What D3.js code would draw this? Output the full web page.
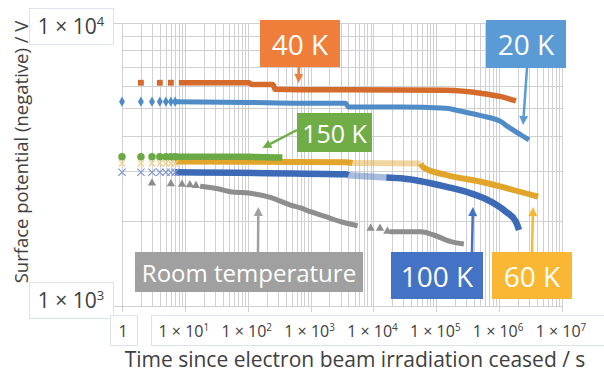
<!DOCTYPE html>
<html>
<head>
<meta charset="utf-8">
<script src="https://cdn.jsdelivr.net/npm/d3@7"></script>
<style>
  body { margin: 0; background: #fff; }
  svg { display: block; font-family: "Open Sans", "Noto Sans", sans-serif; }
</style>
</head>
<body>
<svg id="chart" width="604" height="372"></svg>
<script>
// ---- data (time in s, potential in V) ----
const xTickValues = [1, 1e1, 1e2, 1e3, 1e4, 1e5, 1e6, 1e7];
const yTickValues = [1e3, 1e4];

// 40 K
const t40 = [8, 105, 115, 250, 275, 690, 27000, 141800, 512000, 1.07e6, 1.85e6];
const v40 = [6150, 6150, 6060, 6060, 5830, 5810, 5800, 5780, 5645, 5491, 5302];
const m40 = [2, 4, 6];
// 20 K
const t20 = [7, 100, 690, 3600, 4000, 27000, 141800, 200000, 512000, 1.07e6, 1.38e6, 2.23e6, 2.99e6];
const v20 = [5272, 5240, 5204, 5204, 5050, 5050, 5000, 4930, 4704, 4480, 4302, 4020, 3860];
const m20 = [1, 2, 3, 4, 5, 6, 7];
// 150 K
const t150 = [7, 100, 356];
const v150 = [3370, 3365, 3345];
const m150 = [1, 2, 3, 4, 5, 6, 7];
// 60 K
const t60 = [7, 3600, 4660, 56600, 62000, 141800, 512000, 1.07e6, 4.16e6];
const v60 = [3240, 3219, 3200, 3185, 3090, 2904, 2749, 2640, 2433];
const m60 = [1, 2, 3, 4, 5, 6, 7];
// 100 K
const t100 = [7, 3600, 4020, 16000, 27150, 141800, 355000, 740000, 1.28e6, 1.85e6, 2.07e6];
const v100 = [2968, 2920, 2900, 2845, 2827, 2640, 2501, 2337, 2154, 1986, 1856];
const m100 = [1, 2, 3, 4, 5, 6, 7];
// room temperature (two measurement runs)
const tRTa = [17.5, 36.6, 52.8, 110, 229, 478, 690, 996, 2076, 3000, 5600];
const vRTa = [2650, 2585, 2534, 2501, 2422, 2274, 2220, 2154, 2041, 1986, 1922];
const tRTb = [18000, 56600, 91200, 170000, 274600];
const vRTb = [1830, 1830, 1782, 1688, 1656];
const mRTt = [3, 6, 9, 12, 15, 9020, 12700, 16670];
const mRTv = [2720, 2700, 2690, 2680, 2665, 1882, 1880, 1835];

// ---- scales ----
const svg = d3.select('#chart');
const x = d3.scaleLog().domain([1, 1e7]).range([122, 562]);
const y = d3.scaleLog().domain([1e3, 1e4]).range([306, 23]);
const isMajor = d => Math.abs(Math.log10(d) - Math.round(Math.log10(d))) < 1e-9;

// ---- grid ----
const grid = svg.append('g').attr('stroke', '#CFCFD4').attr('stroke-width', 1).attr('shape-rendering', 'crispEdges');
grid.selectAll('line.v').data(x.ticks()).join('line')
    .attr('class', 'v')
    .attr('x1', d => Math.round(x(d)) + 0.5).attr('x2', d => Math.round(x(d)) + 0.5)
    .attr('y1', y(1e4)).attr('y2', d => isMajor(d) ? y(1e3) + 6 : y(1e3));
grid.selectAll('line.h').data(y.ticks()).join('line')
    .attr('class', 'h')
    .attr('y1', d => Math.round(y(d)) + 0.5).attr('y2', d => Math.round(y(d)) + 0.5)
    .attr('x1', d => isMajor(d) ? x(1) - 9 : x(1)).attr('x2', x(1e7));

// ---- series ----
const pairs = (ts, vs) => ts.map((t, i) => [t, vs[i]]);
const line = d3.line().x(d => x(d[0])).y(d => y(d[1])).curve(d3.curveMonotoneX);

const series = [
  { name: 'RT', parts: [pairs(tRTa, vRTa), pairs(tRTb, vRTb)], color: '#8E8E8E', w: 5,
    marks: pairs(mRTt, mRTv), sym: d3.symbolTriangle, size: 30, fill: '#8E8E8E' },
  { name: '100K', parts: [pairs(t100, v100)], color: '#3D6AB6', w: 6.5, faint: [4020, 16000],
    marks: m100.map(t => [t, v100[0]]), sym: d3.symbolX, size: 36, stroke: '#7E97D3' },
  { name: '60K', parts: [pairs(t60, v60)], color: '#E2A52C', w: 6, faint: [4660, 56600],
    marks: m60.map(t => [t, 3190]), sym: d3.symbolX, size: 26, stroke: '#EFCF86' },
  { name: '150K', parts: [pairs(t150, v150)], color: '#6AA944', w: 6.5,
    marks: m150.map(t => [t, v150[0]]), sym: d3.symbolCircle, size: 44, fill: '#6AA944' },
  { name: '20K', parts: [pairs(t20, v20)], color: '#4F8BC6', w: 5,
    marks: m20.map(t => [t, v20[0]]), sym: d3.symbolDiamond, size: 30, fill: '#4F8BC6' },
  { name: '40K', parts: [pairs(t40, v40)], color: '#D46B2B', w: 5.5,
    marks: m40.map(t => [t, v40[0]]), sym: d3.symbolSquare, size: 34, fill: '#D46B2B' }
];

const plot = svg.append('g');
series.forEach(s => {
  const g = plot.append('g');
  s.parts.forEach(pts => {
    if (s.faint) {
      const [a, b] = s.faint;
      const before = pts.filter(d => d[0] <= a);
      const mid = pts.filter(d => d[0] >= a && d[0] <= b);
      const after = pts.filter(d => d[0] >= b);
      [[before, 1], [mid, 0.45], [after, 1]].forEach(([seg, op]) => {
        g.append('path').attr('d', line(seg)).attr('fill', 'none')
          .attr('stroke', s.color).attr('stroke-width', s.w).attr('stroke-opacity', op);
      });
    } else {
      g.append('path').attr('d', line(pts)).attr('fill', 'none')
        .attr('stroke', s.color).attr('stroke-width', s.w);
    }
  });
  g.selectAll('path.mk').data(s.marks).join('path')
    .attr('class', 'mk')
    .attr('transform', d => `translate(${x(d[0])},${y(d[1])})`)
    .attr('d', d3.symbol().type(s.sym).size(s.size))
    .attr('fill', s.fill || 'none')
    .attr('stroke', s.stroke || 'none')
    .attr('stroke-width', 1.2);
});

// ---- tick labels in boxes ----
function sci(sel, d, size) {
  if (d === 1) { sel.text('1'); return; }
  const e = Math.round(Math.log10(d));
  sel.append('tspan').text('1 \u00D7 10');
  sel.append('tspan').attr('dy', -size * 0.38).attr('font-size', size * 0.62).text(e);
}

const yLab = svg.append('g');
yTickValues.forEach(d => {
  const cy = d === 1e4 ? 27 : 301;
  yLab.append('rect').attr('x', 29.5).attr('y', cy - 18.5).attr('width', 84).attr('height', 36)
    .attr('fill', '#fff').attr('stroke', '#DCE3EE');
  yLab.append('text').attr('x', 71).attr('y', cy + 7).attr('text-anchor', 'middle')
    .attr('font-size', 21).attr('fill', '#404040').call(sci, d, 21);
});

const xLab = svg.append('g');
xLab.append('rect').attr('x', 110.5).attr('y', 315.5).attr('width', 27).attr('height', 30)
  .attr('fill', '#fff').attr('stroke', '#DCE3EE');
xLab.append('rect').attr('x', 151.5).attr('y', 315.5).attr('width', 470).attr('height', 30)
  .attr('fill', '#fff').attr('stroke', '#DCE3EE');
xTickValues.forEach(d => {
  xLab.append('text').attr('x', x(d) + (d === 1 ? 1 : -1)).attr('y', 337).attr('text-anchor', 'middle')
    .attr('font-size', 16).attr('fill', '#404040').call(sci, d, 16);
});

// ---- axis titles ----
svg.append('text').attr('transform', 'translate(20,152) rotate(-90)')
  .attr('text-anchor', 'middle').attr('dominant-baseline', 'central')
  .attr('font-size', 18.5).attr('fill', '#404040')
  .text('Surface potential (negative) / V');
svg.append('text').attr('x', 355).attr('y', 367).attr('text-anchor', 'middle')
  .attr('font-size', 21).attr('fill', '#404040')
  .text('Time since electron beam irradiation ceased / s');

// ---- callouts ----
const callouts = [
  { label: '40 K', fill: '#EF7E3B', box: [260, 20, 80, 47], fs: 28, from: [299, 67], tip: [641, 6138] },
  { label: '20 K', fill: '#5B9BD5', box: [486, 20, 80, 48], fs: 28, from: [527, 68], tip: [2.4e6, 4362] },
  { label: '150 K', fill: '#70AD47', box: [297, 113, 75, 39], fs: 25, from: [297, 130], tip: [171, 3616] },
  { label: 'Room temperature', fill: '#A0A0A0', box: [135, 252, 228, 40], fs: 24, from: [258, 252], tip: [147.6, 2237] },
  { label: '100 K', fill: '#4472C4', box: [391, 252, 92, 47], fs: 28, from: [472, 252], tip: [382000, 2237] },
  { label: '60 K', fill: '#FAB733', box: [492, 252, 80, 47], fs: 28, from: [532, 252], tip: [3.46e6, 2237] }
];

const ann = svg.append('g');
callouts.forEach(c => {
  const [bx, by, bw, bh] = c.box;
  ann.append('rect').attr('x', bx).attr('y', by).attr('width', bw).attr('height', bh).attr('fill', c.fill);
  ann.append('text').attr('x', bx + bw / 2).attr('y', by + bh / 2)
    .attr('text-anchor', 'middle').attr('dominant-baseline', 'central')
    .attr('font-size', c.fs).attr('fill', '#fff').text(c.label);

  const x0 = c.from[0], y0 = c.from[1];
  const x1 = x(c.tip[0]), y1 = y(c.tip[1]);
  const ang = Math.atan2(y1 - y0, x1 - x0);
  const hl = 9, hw = 4.5;
  const bxp = x1 - hl * Math.cos(ang), byp = y1 - hl * Math.sin(ang);
  ann.append('line').attr('x1', x0).attr('y1', y0).attr('x2', bxp).attr('y2', byp)
    .attr('stroke', c.fill).attr('stroke-width', 2.5);
  ann.append('path')
    .attr('d', `M${x1},${y1}L${bxp + hw * Math.sin(ang)},${byp - hw * Math.cos(ang)}L${bxp - hw * Math.sin(ang)},${byp + hw * Math.cos(ang)}Z`)
    .attr('fill', c.fill);
});
</script>
</body>
</html>
